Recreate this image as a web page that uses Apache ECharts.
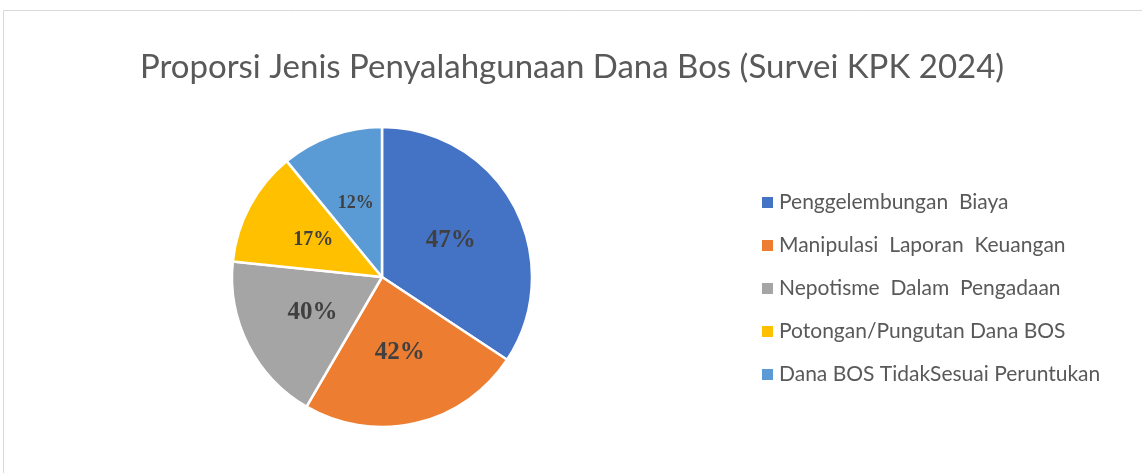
<!DOCTYPE html>
<html>
<head>
<meta charset="utf-8">
<title>Proporsi Jenis Penyalahgunaan Dana Bos</title>
<script src="https://cdn.jsdelivr.net/npm/echarts@6/dist/echarts.min.js"></script>
<style>
  html, body { margin: 0; padding: 0; background: #fff; }
  #chart { width: 1142px; height: 473px; }
</style>
</head>
<body>
<div id="chart"></div>
<script>
// kategori + nilai (ukuran irisan, label ditulis apa adanya)
const categories = [
  'Penggelembungan  Biaya',
  'Manipulasi  Laporan  Keuangan',
  'Nepotisme  Dalam  Pengadaan',
  'Potongan/Pungutan Dana BOS',
  'Dana BOS TidakSesuai Peruntukan'
];
const sliceValues = [47, 33, 25, 17, 15];
const labelTexts = ['47%', '42%', '40%', '17%', '12%'];
const labelSizes = [25, 25, 25, 20, 18];
const colors = ['#4472C4', '#ED7D31', '#A5A5A5', '#FFC000', '#5B9BD5'];

let chart = echarts.init(document.getElementById('chart'));

chart.setOption({
  animation: false,
  title: {
    text: 'Proporsi Jenis Penyalahgunaan Dana Bos (Survei KPK 2024)',
    left: 567,
    textAlign: 'center',
    top: 46,
    textStyle: {
      fontFamily: 'Lato',
      fontWeight: 'normal',
      fontSize: 33,
      color: '#595959'
    }
  },
  graphic: [{
    // bingkai area grafik
    type: 'rect',
    shape: { x: 3.5, y: 10.5, width: 1200, height: 500 },
    style: { fill: 'none', stroke: '#d9d9d9', lineWidth: 1 },
    silent: true
  }],
  legend: {
    orient: 'vertical',
    left: 755,
    top: 187,
    icon: 'rect',
    itemWidth: 13,
    itemHeight: 13,
    itemGap: 22,
    textStyle: {
      fontFamily: 'Lato',
      fontSize: 21,
      lineHeight: 20,
      color: '#595959'
    },
    data: categories
  },
  series: [{
    type: 'pie',
    center: [382, 277],
    radius: 150,
    startAngle: 90,
    clockwise: true,
    itemStyle: { borderColor: '#fff', borderWidth: 2.5 },
    label: {
      show: true,
      position: 'inside',
      fontFamily: 'Liberation Serif',
      fontWeight: 'bold',
      color: '#404040',
      formatter: p => labelTexts[p.dataIndex]
    },
    labelLine: { show: false },
    data: categories.map((name, i) => ({
      name: name,
      value: sliceValues[i],
      itemStyle: { color: colors[i] },
      label: { fontSize: labelSizes[i] }
    }))
  }]
});

window.addEventListener('resize', () => {
  chart.resize();
});
</script>
</body>
</html>
